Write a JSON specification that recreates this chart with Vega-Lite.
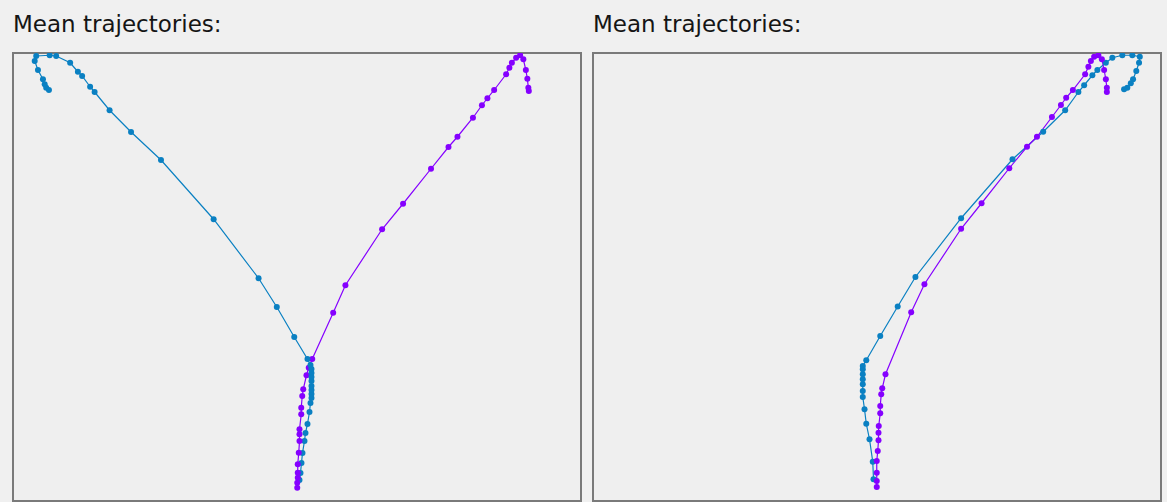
{
  "$schema": "https://vega.github.io/schema/vega-lite/v6.json",
  "background": "#f0f0f0",
  "padding": {"left": 12, "top": 13, "right": 5, "bottom": 2},
  "spacing": 10,
  "config": {
    "view": {"stroke": "#7a7a7a", "strokeWidth": 2, "fill": "#efefef"},
    "title": {"anchor": "start", "font": "DejaVu Sans", "fontSize": 23, "fontWeight": "normal", "color": "#151515", "offset": 16}
  },
  "datasets": {
    "left": [
      {"cond": "Condition 1", "i": 1, "x": 0.010, "y": 0.084},
      {"cond": "Condition 1", "i": 2, "x": 0.014, "y": 0.112},
      {"cond": "Condition 1", "i": 3, "x": 0.018, "y": 0.152},
      {"cond": "Condition 1", "i": 4, "x": 0.022, "y": 0.192},
      {"cond": "Condition 1", "i": 5, "x": 0.030, "y": 0.240},
      {"cond": "Condition 1", "i": 6, "x": 0.034, "y": 0.272},
      {"cond": "Condition 1", "i": 7, "x": 0.042, "y": 0.308},
      {"cond": "Condition 1", "i": 8, "x": 0.050, "y": 0.356},
      {"cond": "Condition 1", "i": 9, "x": 0.054, "y": 0.392},
      {"cond": "Condition 1", "i": 10, "x": 0.058, "y": 0.412},
      {"cond": "Condition 1", "i": 11, "x": 0.058, "y": 0.428},
      {"cond": "Condition 1", "i": 12, "x": 0.058, "y": 0.444},
      {"cond": "Condition 1", "i": 13, "x": 0.058, "y": 0.460},
      {"cond": "Condition 1", "i": 14, "x": 0.058, "y": 0.480},
      {"cond": "Condition 1", "i": 15, "x": 0.058, "y": 0.496},
      {"cond": "Condition 1", "i": 16, "x": 0.058, "y": 0.512},
      {"cond": "Condition 1", "i": 17, "x": 0.058, "y": 0.528},
      {"cond": "Condition 1", "i": 18, "x": 0.054, "y": 0.544},
      {"cond": "Condition 1", "i": 19, "x": 0.042, "y": 0.568},
      {"cond": "Condition 1", "i": 20, "x": -0.011, "y": 0.656},
      {"cond": "Condition 1", "i": 21, "x": -0.081, "y": 0.776},
      {"cond": "Condition 1", "i": 22, "x": -0.154, "y": 0.891},
      {"cond": "Condition 1", "i": 23, "x": -0.334, "y": 1.127},
      {"cond": "Condition 1", "i": 24, "x": -0.545, "y": 1.364},
      {"cond": "Condition 1", "i": 25, "x": -0.665, "y": 1.476},
      {"cond": "Condition 1", "i": 26, "x": -0.751, "y": 1.563},
      {"cond": "Condition 1", "i": 27, "x": -0.811, "y": 1.636},
      {"cond": "Condition 1", "i": 28, "x": -0.829, "y": 1.657},
      {"cond": "Condition 1", "i": 29, "x": -0.861, "y": 1.700},
      {"cond": "Condition 1", "i": 30, "x": -0.878, "y": 1.717},
      {"cond": "Condition 1", "i": 31, "x": -0.909, "y": 1.753},
      {"cond": "Condition 1", "i": 32, "x": -0.965, "y": 1.780},
      {"cond": "Condition 1", "i": 33, "x": -0.991, "y": 1.783},
      {"cond": "Condition 1", "i": 34, "x": -1.045, "y": 1.780},
      {"cond": "Condition 1", "i": 35, "x": -1.051, "y": 1.760},
      {"cond": "Condition 1", "i": 36, "x": -1.038, "y": 1.724},
      {"cond": "Condition 1", "i": 37, "x": -1.018, "y": 1.687},
      {"cond": "Condition 1", "i": 38, "x": -1.011, "y": 1.667},
      {"cond": "Condition 1", "i": 39, "x": -1.005, "y": 1.653},
      {"cond": "Condition 1", "i": 40, "x": -0.994, "y": 1.644},
      {"cond": "Condition 2", "i": 1, "x": 0.001, "y": 0.053},
      {"cond": "Condition 2", "i": 2, "x": 0.001, "y": 0.073},
      {"cond": "Condition 2", "i": 3, "x": 0.003, "y": 0.093},
      {"cond": "Condition 2", "i": 4, "x": 0.003, "y": 0.113},
      {"cond": "Condition 2", "i": 5, "x": 0.003, "y": 0.147},
      {"cond": "Condition 2", "i": 6, "x": 0.007, "y": 0.193},
      {"cond": "Condition 2", "i": 7, "x": 0.010, "y": 0.240},
      {"cond": "Condition 2", "i": 8, "x": 0.010, "y": 0.267},
      {"cond": "Condition 2", "i": 9, "x": 0.010, "y": 0.287},
      {"cond": "Condition 2", "i": 10, "x": 0.017, "y": 0.347},
      {"cond": "Condition 2", "i": 11, "x": 0.017, "y": 0.373},
      {"cond": "Condition 2", "i": 12, "x": 0.021, "y": 0.420},
      {"cond": "Condition 2", "i": 13, "x": 0.025, "y": 0.447},
      {"cond": "Condition 2", "i": 14, "x": 0.038, "y": 0.503},
      {"cond": "Condition 2", "i": 15, "x": 0.047, "y": 0.533},
      {"cond": "Condition 2", "i": 16, "x": 0.061, "y": 0.568},
      {"cond": "Condition 2", "i": 17, "x": 0.145, "y": 0.753},
      {"cond": "Condition 2", "i": 18, "x": 0.194, "y": 0.863},
      {"cond": "Condition 2", "i": 19, "x": 0.341, "y": 1.087},
      {"cond": "Condition 2", "i": 20, "x": 0.425, "y": 1.189},
      {"cond": "Condition 2", "i": 21, "x": 0.537, "y": 1.329},
      {"cond": "Condition 2", "i": 22, "x": 0.607, "y": 1.416},
      {"cond": "Condition 2", "i": 23, "x": 0.643, "y": 1.457},
      {"cond": "Condition 2", "i": 24, "x": 0.705, "y": 1.533},
      {"cond": "Condition 2", "i": 25, "x": 0.741, "y": 1.583},
      {"cond": "Condition 2", "i": 26, "x": 0.763, "y": 1.611},
      {"cond": "Condition 2", "i": 27, "x": 0.790, "y": 1.644},
      {"cond": "Condition 2", "i": 28, "x": 0.838, "y": 1.707},
      {"cond": "Condition 2", "i": 29, "x": 0.851, "y": 1.733},
      {"cond": "Condition 2", "i": 30, "x": 0.861, "y": 1.753},
      {"cond": "Condition 2", "i": 31, "x": 0.878, "y": 1.773},
      {"cond": "Condition 2", "i": 32, "x": 0.894, "y": 1.783},
      {"cond": "Condition 2", "i": 33, "x": 0.907, "y": 1.767},
      {"cond": "Condition 2", "i": 34, "x": 0.917, "y": 1.724},
      {"cond": "Condition 2", "i": 35, "x": 0.923, "y": 1.689},
      {"cond": "Condition 2", "i": 36, "x": 0.927, "y": 1.653},
      {"cond": "Condition 2", "i": 37, "x": 0.929, "y": 1.640}
    ],
    "right": [
      {"cond": "Condition 1", "i": 1, "x": -0.014, "y": 0.087},
      {"cond": "Condition 1", "i": 2, "x": -0.017, "y": 0.157},
      {"cond": "Condition 1", "i": 3, "x": -0.030, "y": 0.247},
      {"cond": "Condition 1", "i": 4, "x": -0.043, "y": 0.309},
      {"cond": "Condition 1", "i": 5, "x": -0.050, "y": 0.367},
      {"cond": "Condition 1", "i": 6, "x": -0.057, "y": 0.416},
      {"cond": "Condition 1", "i": 7, "x": -0.057, "y": 0.440},
      {"cond": "Condition 1", "i": 8, "x": -0.057, "y": 0.467},
      {"cond": "Condition 1", "i": 9, "x": -0.057, "y": 0.487},
      {"cond": "Condition 1", "i": 10, "x": -0.057, "y": 0.507},
      {"cond": "Condition 1", "i": 11, "x": -0.057, "y": 0.527},
      {"cond": "Condition 1", "i": 12, "x": -0.057, "y": 0.540},
      {"cond": "Condition 1", "i": 13, "x": -0.043, "y": 0.563},
      {"cond": "Condition 1", "i": 14, "x": 0.013, "y": 0.660},
      {"cond": "Condition 1", "i": 15, "x": 0.083, "y": 0.778},
      {"cond": "Condition 1", "i": 16, "x": 0.154, "y": 0.896},
      {"cond": "Condition 1", "i": 17, "x": 0.337, "y": 1.131},
      {"cond": "Condition 1", "i": 18, "x": 0.543, "y": 1.367},
      {"cond": "Condition 1", "i": 19, "x": 0.666, "y": 1.477},
      {"cond": "Condition 1", "i": 20, "x": 0.754, "y": 1.563},
      {"cond": "Condition 1", "i": 21, "x": 0.807, "y": 1.636},
      {"cond": "Condition 1", "i": 22, "x": 0.830, "y": 1.663},
      {"cond": "Condition 1", "i": 23, "x": 0.863, "y": 1.703},
      {"cond": "Condition 1", "i": 24, "x": 0.883, "y": 1.724},
      {"cond": "Condition 1", "i": 25, "x": 0.917, "y": 1.753},
      {"cond": "Condition 1", "i": 26, "x": 0.943, "y": 1.773},
      {"cond": "Condition 1", "i": 27, "x": 0.983, "y": 1.783},
      {"cond": "Condition 1", "i": 28, "x": 1.023, "y": 1.783},
      {"cond": "Condition 1", "i": 29, "x": 1.053, "y": 1.777},
      {"cond": "Condition 1", "i": 30, "x": 1.050, "y": 1.753},
      {"cond": "Condition 1", "i": 31, "x": 1.039, "y": 1.720},
      {"cond": "Condition 1", "i": 32, "x": 1.026, "y": 1.687},
      {"cond": "Condition 1", "i": 33, "x": 1.017, "y": 1.671},
      {"cond": "Condition 1", "i": 34, "x": 1.003, "y": 1.653},
      {"cond": "Condition 1", "i": 35, "x": 0.990, "y": 1.647},
      {"cond": "Condition 2", "i": 1, "x": -0.001, "y": 0.056},
      {"cond": "Condition 2", "i": 2, "x": -0.001, "y": 0.080},
      {"cond": "Condition 2", "i": 3, "x": -0.001, "y": 0.113},
      {"cond": "Condition 2", "i": 4, "x": -0.001, "y": 0.160},
      {"cond": "Condition 2", "i": 5, "x": 0.003, "y": 0.200},
      {"cond": "Condition 2", "i": 6, "x": 0.006, "y": 0.243},
      {"cond": "Condition 2", "i": 7, "x": 0.006, "y": 0.273},
      {"cond": "Condition 2", "i": 8, "x": 0.007, "y": 0.300},
      {"cond": "Condition 2", "i": 9, "x": 0.013, "y": 0.351},
      {"cond": "Condition 2", "i": 10, "x": 0.013, "y": 0.380},
      {"cond": "Condition 2", "i": 11, "x": 0.017, "y": 0.427},
      {"cond": "Condition 2", "i": 12, "x": 0.021, "y": 0.451},
      {"cond": "Condition 2", "i": 13, "x": 0.034, "y": 0.507},
      {"cond": "Condition 2", "i": 14, "x": 0.137, "y": 0.755},
      {"cond": "Condition 2", "i": 15, "x": 0.190, "y": 0.867},
      {"cond": "Condition 2", "i": 16, "x": 0.337, "y": 1.089},
      {"cond": "Condition 2", "i": 17, "x": 0.419, "y": 1.191},
      {"cond": "Condition 2", "i": 18, "x": 0.530, "y": 1.331},
      {"cond": "Condition 2", "i": 19, "x": 0.601, "y": 1.417},
      {"cond": "Condition 2", "i": 20, "x": 0.641, "y": 1.457},
      {"cond": "Condition 2", "i": 21, "x": 0.701, "y": 1.536},
      {"cond": "Condition 2", "i": 22, "x": 0.737, "y": 1.584},
      {"cond": "Condition 2", "i": 23, "x": 0.758, "y": 1.613},
      {"cond": "Condition 2", "i": 24, "x": 0.785, "y": 1.644},
      {"cond": "Condition 2", "i": 25, "x": 0.834, "y": 1.707},
      {"cond": "Condition 2", "i": 26, "x": 0.847, "y": 1.737},
      {"cond": "Condition 2", "i": 27, "x": 0.857, "y": 1.760},
      {"cond": "Condition 2", "i": 28, "x": 0.870, "y": 1.777},
      {"cond": "Condition 2", "i": 29, "x": 0.887, "y": 1.783},
      {"cond": "Condition 2", "i": 30, "x": 0.901, "y": 1.767},
      {"cond": "Condition 2", "i": 31, "x": 0.910, "y": 1.724},
      {"cond": "Condition 2", "i": 32, "x": 0.917, "y": 1.687},
      {"cond": "Condition 2", "i": 33, "x": 0.921, "y": 1.653},
      {"cond": "Condition 2", "i": 34, "x": 0.921, "y": 1.636}
    ]
  },
  "hconcat": [
    {
      "title": "Mean trajectories:",
      "width": 568,
      "height": 448,
      "data": {"name": "left"},
      "encoding": {
        "x": {"field": "x", "type": "quantitative", "scale": {"domain": [-1.138, 1.138], "nice": false, "zero": false}, "axis": null},
        "y": {"field": "y", "type": "quantitative", "scale": {"domain": [0, 1.792], "nice": false, "zero": false}, "axis": null},
        "color": {"field": "cond", "type": "nominal", "scale": {"domain": ["Condition 1", "Condition 2"], "range": ["#0a80c2", "#8500ff"]}, "legend": null},
        "order": {"field": "i", "type": "quantitative"}
      },
      "layer": [
        {"mark": {"type": "line", "strokeWidth": 1.2, "clip": true}},
        {"mark": {"type": "point", "filled": true, "opacity": 1, "size": 36, "shape": "circle", "clip": true}}
      ]
    },
    {
      "title": "Mean trajectories:",
      "width": 568,
      "height": 448,
      "data": {"name": "right"},
      "encoding": {
        "x": {"field": "x", "type": "quantitative", "scale": {"domain": [-1.138, 1.138], "nice": false, "zero": false}, "axis": null},
        "y": {"field": "y", "type": "quantitative", "scale": {"domain": [0, 1.792], "nice": false, "zero": false}, "axis": null},
        "color": {"field": "cond", "type": "nominal", "scale": {"domain": ["Condition 1", "Condition 2"], "range": ["#0a80c2", "#8500ff"]}, "legend": null},
        "order": {"field": "i", "type": "quantitative"}
      },
      "layer": [
        {"mark": {"type": "line", "strokeWidth": 1.2, "clip": true}},
        {"mark": {"type": "point", "filled": true, "opacity": 1, "size": 36, "shape": "circle", "clip": true}}
      ]
    }
  ]
}
